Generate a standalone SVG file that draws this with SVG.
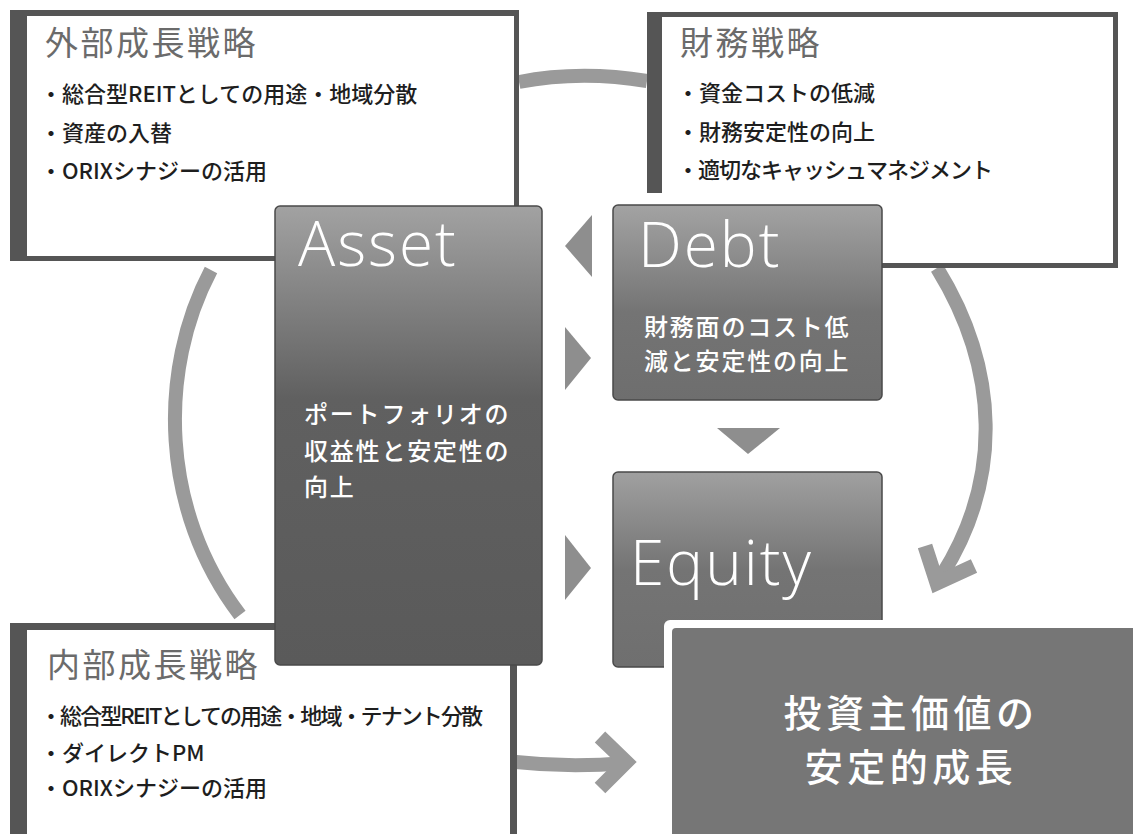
<svg xmlns="http://www.w3.org/2000/svg" width="1133" height="834" viewBox="0 0 1133 834">
<defs>
<linearGradient id="gAsset" x1="0" y1="0" x2="0" y2="1">
<stop offset="0" stop-color="#a2a2a2"/><stop offset="0.42" stop-color="#606060"/><stop offset="1" stop-color="#5a5a5a"/>
</linearGradient>
<linearGradient id="gDebt" x1="0" y1="0" x2="0" y2="1">
<stop offset="0" stop-color="#a3a3a3"/><stop offset="0.55" stop-color="#747474"/><stop offset="1" stop-color="#6e6e6e"/>
</linearGradient>
<linearGradient id="gEquity" x1="0" y1="0" x2="0" y2="1">
<stop offset="0" stop-color="#a0a0a0"/><stop offset="0.5" stop-color="#747474"/><stop offset="1" stop-color="#6f6f6f"/>
</linearGradient>
<style>
.frame{fill:#555}
.inner{fill:#fff}
.title{font-family:"Noto Sans CJK JP","Noto Sans CJK SC",sans-serif;font-size:33px;letter-spacing:2.5px;fill:#6b6b6b}
.bul{font-family:"Noto Sans CJK JP","Noto Sans CJK SC",sans-serif;font-size:22px;font-weight:500;fill:#1e1e1e}
.big{font-family:"Open Sans","Lato","Noto Sans",sans-serif;font-weight:300;font-size:62px;letter-spacing:2px;fill:#fff}
.body{font-family:"Noto Sans CJK JP","Noto Sans CJK SC",sans-serif;font-size:24px;font-weight:500;letter-spacing:1.8px;fill:#fff}
.goal{font-family:"Noto Sans CJK JP","Noto Sans CJK SC",sans-serif;font-size:38px;font-weight:500;letter-spacing:4.5px;fill:#fff;text-anchor:middle}
.card{stroke:#4a4a4a;stroke-width:1.5}
.arc{fill:none;stroke:#9a9a9a;stroke-width:14}
.head{fill:none;stroke:#9a9a9a;stroke-width:15;stroke-linejoin:miter;stroke-miterlimit:10}
.tri{fill:#8e8e8e}
</style>
</defs>
<rect width="1133" height="834" fill="#fff"/>

<g id="connectors">
<path class="arc" d="M 519 82 Q 580 70 647 81"/>
<path class="arc" d="M 211 270 C 158 370, 160 510, 240 615"/>
<path class="arc" d="M 937 268 C 1000 370, 1002 480, 942 575"/>
<polyline class="head" points="925,546 937,583 974,566"/>
<path class="arc" d="M 516 762 Q 570 768 626 763"/>
<polyline class="head" points="600,737 626,762 600,788"/>
<polygon class="tri" points="592,215 565,246 592,277"/>
<polygon class="tri" points="565,327 591,358 565,390"/>
<polygon class="tri" points="717,428 780,428 748,454"/>
<polygon class="tri" points="565,535 591,568 565,600"/>
</g>

<g id="external-growth">
<rect class="frame" x="10" y="10" width="509" height="251"/>
<rect class="inner" x="27" y="16" width="487" height="240"/>
<text class="title" x="45" y="55">外部成長戦略</text>
<text class="bul" x="40" y="102">・総合型REITとしての用途・地域分散</text>
<text class="bul" x="40" y="141">・資産の入替</text>
<text class="bul" x="40" y="179">・ORIXシナジーの活用</text>
</g>

<g id="financial-strategy">
<rect class="inner" x="650" y="15" width="465" height="250"/>
<path d="M 647 14.5 H 1115.5 V 265.5 H 647" fill="none" stroke="#555" stroke-width="5"/>
<rect class="frame" x="647" y="12" width="15" height="181"/>
<text class="title" x="680" y="55">財務戦略</text>
<text class="bul" x="677" y="101">・資金コストの低減</text>
<text class="bul" x="677" y="140">・財務安定性の向上</text>
<text class="bul" x="677" y="178" textLength="316" lengthAdjust="spacing">・適切なキャッシュマネジメント</text>
</g>

<g id="internal-growth">
<rect class="frame" x="10" y="623" width="507" height="220"/>
<rect class="inner" x="27" y="630" width="483" height="210"/>
<text class="title" x="47" y="677">内部成長戦略</text>
<text class="bul" x="40" y="724" textLength="443" lengthAdjust="spacing">・総合型REITとしての用途・地域・テナント分散</text>
<text class="bul" x="40" y="761">・ダイレクトPM</text>
<text class="bul" x="40" y="796">・ORIXシナジーの活用</text>
</g>

<g id="asset">
<rect class="card" x="275" y="206" width="267" height="459" rx="5" fill="url(#gAsset)"/>
<text class="big" x="298" y="266">Asset</text>
<text class="body" x="304" y="423">ポートフォリオの</text>
<text class="body" x="304" y="460">収益性と安定性の</text>
<text class="body" x="304" y="496">向上</text>
</g>

<g id="debt">
<rect class="card" x="613" y="205" width="269" height="195" rx="5" fill="url(#gDebt)"/>
<text class="big" x="638" y="267">Debt</text>
<text class="body" x="644" y="336">財務面のコスト低</text>
<text class="body" x="644" y="370">減と安定性の向上</text>
</g>

<g id="equity">
<rect class="card" x="613" y="472" width="269" height="195" rx="5" fill="url(#gEquity)"/>
<text class="big" x="630" y="585">Equity</text>
</g>

<g id="unitholder-value">
<rect x="664" y="620" width="475" height="220" rx="6" fill="#fff"/>
<rect x="672" y="628" width="467" height="212" rx="4" fill="#767676"/>
<text class="goal" x="911" y="727">投資主価値の</text>
<text class="goal" x="911" y="781">安定的成長</text>
</g>
</svg>
